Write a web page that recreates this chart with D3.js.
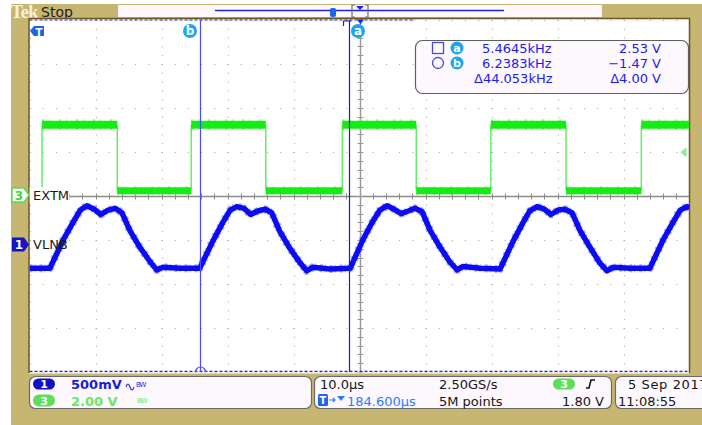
<!DOCTYPE html>
<html><head><meta charset="utf-8">
<script src="https://cdn.jsdelivr.net/npm/d3@7"></script>
<style>body{margin:0;background:#fff;overflow:hidden} svg{display:block} text{font-family:"DejaVu Sans",sans-serif}</style>
</head><body><svg id="c" width="702" height="425"></svg>
<script>
// ---------------- data ----------------
// Channel 1 (VLNB), time in µs from left edge of screen, volts
const ch1Time = [0, 3.1,5.1,6.6,7.7,8.7,9.8,10.8,11.9,13.0,14.0,15.2,16.7,18.3,19.3,20.2,22.8,
  25.8,27.8,29.3,30.4,31.4,32.5,33.5,34.6,35.7,36.7,37.9,39.4,41.0,42.0,42.9,45.5,
  48.6,50.5,52.0,53.1,54.2,55.2,56.3,57.4,58.4,59.5,60.7,62.2,63.7,64.8,65.7,68.3,
  71.3,73.3,74.8,75.8,76.9,78.0,79.0,80.1,81.1,82.2,83.4,84.9,86.4,87.5,88.4,91.0,
  94.0,96.0,97.5,98.6,99.6,100];
const ch1Volt = [-0.27, -0.27,0.05,0.25,0.39,0.44,0.40,0.34,0.39,0.41,0.36,0.16,-0.03,-0.2,-0.29,-0.26,-0.27,
  -0.27,0.04,0.25,0.39,0.43,0.41,0.34,0.38,0.40,0.36,0.15,-0.04,-0.21,-0.3,-0.26,-0.28,
  -0.27,0.05,0.26,0.39,0.44,0.40,0.35,0.38,0.41,0.37,0.16,-0.03,-0.2,-0.29,-0.25,-0.27,
  -0.28,0.04,0.25,0.38,0.43,0.40,0.34,0.39,0.40,0.36,0.16,-0.03,-0.21,-0.3,-0.26,-0.27,
  -0.27,0.05,0.25,0.39,0.43,0.42];
// Channel 3 (EXTM) square wave: edge times (µs), first state low
const ch3EdgeTimes = [1.9, 13.3, 24.5, 35.8, 47.4, 58.6, 69.9, 81.3, 92.7];
const ch3Levels = [0.2, 3.2]; // low, high (V)
const ch1Scale = 0.5, ch3Scale = 2.0;   // V/div
const ch1Pos = -1.1, ch3Pos = 0.02;      // div
const trigArrowLevel = 1.95;             // V on ch3
const cursorNames = ["a", "b"];
const cursorTimes = [48.4, 25.9];
const readoutFreq = ["5.4645kHz", "6.2383kHz", "Δ44.053kHz"];
const readoutVolt = ["2.53 V", "−1.47 V", "Δ4.00 V"];
const chLabels = ["EXTM", "VLNB"];
const ch1Info = ["500mV"], ch3Info = ["2.00 V"];
const horizInfo = ["10.0µs", "2.50GS/s", "184.600µs", "5M points", "1.80 V"];
const dateInfo = ["5 Sep 2017", "11:08:55"];

// ---------------- drawing ----------------
const svg = d3.select("#c");
const tan = "#c6b672";
const L = 29.5, R = 689.5, T = 20, B = 372;
const tScale = d3.scaleLinear().domain([0, 100]).range([L, R]);
const divX = d3.scaleLinear().domain([0, 10]).range([L, R]);
const divY = d3.scaleLinear().domain([-4, 4]).range([B, T]);
const y1 = v => divY(v / ch1Scale + ch1Pos);
const y3 = v => divY(v / ch3Scale + ch3Pos);

svg.append("rect").attr("x", 11).attr("y", 4).attr("width", 691).attr("height", 421).attr("fill", tan);
// top bar
svg.append("text").attr("x", 11).attr("y", 18).attr("font-weight", "bold")
  .attr("font-size", 18).attr("fill", "#f7f1e0").style("font-family", "Liberation Serif").attr("letter-spacing", -0.5).text("Tek");
svg.append("text").attr("x", 41).attr("y", 16.5).attr("font-size", 14).attr("fill", "#1e1e1e").text("Stop");
svg.append("rect").attr("x", 118).attr("y", 5).attr("width", 484).attr("height", 12).attr("fill", "#fdf8fc");
svg.append("line").attr("x1", 215).attr("x2", 504).attr("y1", 10.5).attr("y2", 10.5).attr("stroke", "#2020ee").attr("stroke-width", 1.5);
svg.append("rect").attr("x", 330).attr("y", 8).attr("width", 6).attr("height", 9).attr("rx", 2).attr("fill", "#1a66e8");
svg.append("path").attr("d", "M355,5 h-3 v12 h3 M365,5 h3 v12 h-3").attr("fill", "none").attr("stroke", "#707070").attr("stroke-width", 1.2);
svg.append("path").attr("d", "M356,6 h8 l-4,4 z").attr("fill", "#2020ee");

// plot area
svg.append("rect").attr("x", L - 0.5).attr("y", 18.5).attr("width", R - L + 0.5).attr("height", 355).attr("fill", "#ffffff");
svg.append("path").attr("d", `M${L-0.5},373 V18.5 H${R} V373`).attr("fill", "none").attr("stroke", "#6e5526").attr("stroke-width", 1.5);
svg.append("clipPath").attr("id", "clip").append("rect").attr("x", L).attr("y", 19.5).attr("width", R - L).attr("height", 353);
const g = svg.append("g").attr("clip-path", "url(#clip)");

// graticule
const gridC = "#a2a2a2";
g.selectAll(".vg").data(d3.range(0, 11)).join("line")
  .attr("x1", d => Math.round(divX(d)) + 0.5).attr("x2", d => Math.round(divX(d)) + 0.5)
  .attr("y1", T).attr("y2", B).attr("stroke", gridC).attr("stroke-dasharray", "1 7.8");
g.selectAll(".hg").data(d3.range(-4, 5)).join("line")
  .attr("y1", d => Math.round(divY(d)) + 0.5).attr("y2", d => Math.round(divY(d)) + 0.5)
  .attr("x1", L).attr("x2", R).attr("stroke", gridC).attr("stroke-dasharray", "1 12.2");
// center crosshair
const cy = Math.round(divY(0)) + 0.5, cx = Math.round(divX(5)) + 0.5;
g.append("line").attr("x1", L).attr("x2", R).attr("y1", cy).attr("y2", cy).attr("stroke", "#8a8a8a").attr("stroke-width", 1.5);
g.selectAll(".ht").data(d3.range(0, 51)).join("line")
  .attr("x1", d => Math.round(divX(d / 5)) + 0.5).attr("x2", d => Math.round(divX(d / 5)) + 0.5)
  .attr("y1", cy - 3).attr("y2", cy + 3).attr("stroke", "#8a8a8a");
g.append("line").attr("x1", cx).attr("x2", cx).attr("y1", T).attr("y2", B).attr("stroke", "#9a9a9a").attr("stroke-width", 1.5);
g.selectAll(".vt").data(d3.range(0, 41)).join("line")
  .attr("y1", d => Math.round(divY(d / 5 - 4)) + 0.5).attr("y2", d => Math.round(divY(d / 5 - 4)) + 0.5)
  .attr("x1", cx - 3).attr("x2", cx + 3).attr("stroke", "#9a9a9a");

// dashed record indicators
g.append("line").attr("x1", L).attr("x2", 415).attr("y1", 19.8).attr("y2", 19.8).attr("stroke", "#2a2ab0").attr("stroke-width", 1.5).attr("stroke-dasharray", "3 2");
g.append("line").attr("x1", L).attr("x2", R).attr("y1", 371.5).attr("y2", 371.5).attr("stroke", "#2a2ab0").attr("stroke-width", 1.5).attr("stroke-dasharray", "3 2");

// channel 3 (green)
const bounds = [0, ...ch3EdgeTimes, 100];
const segs = d3.range(bounds.length - 1).map(i => ({ t0: bounds[i], t1: bounds[i + 1], v: ch3Levels[i % 2] }));
g.selectAll(".s3b").data(segs).join("line")
  .attr("x1", d => tScale(d.t0)).attr("x2", d => tScale(d.t1))
  .attr("y1", d => y3(d.v)).attr("y2", d => y3(d.v))
  .attr("stroke", "#7af27a").attr("stroke-width", d => d.v > 1 ? 11 : 9).attr("stroke-dasharray", "2 5 1 9").attr("opacity", 0.8);
g.selectAll(".e3").data(ch3EdgeTimes).join("line")
  .attr("x1", d => tScale(d)).attr("x2", d => tScale(d))
  .attr("y1", y3(ch3Levels[0])).attr("y2", y3(ch3Levels[1]))
  .attr("stroke", "#66ee66").attr("stroke-width", 1.5);
g.selectAll(".s3").data(segs).join("line")
  .attr("x1", d => tScale(d.t0)).attr("x2", d => tScale(d.t1))
  .attr("y1", d => y3(d.v)).attr("y2", d => y3(d.v))
  .attr("stroke", "#14ec14").attr("stroke-width", d => d.v > 1 ? 8 : 7);

// channel 1 (blue)
const ch1 = ch1Time.map((t, i) => ({ t, v: ch1Volt[i] }));
const line1 = d3.line().x(d => tScale(d.t)).y(d => y1(d.v)).curve(d3.curveLinear);
g.append("path").datum(ch1).attr("d", line1).attr("fill", "none").attr("stroke", "#5a5aff").attr("stroke-width", 8).attr("opacity", 0.5).attr("stroke-linejoin", "round").attr("stroke-dasharray", "3 2 1 4");
g.append("path").datum(ch1).attr("d", line1).attr("fill", "none").attr("stroke", "#0c0cf2").attr("stroke-width", 5.5).attr("stroke-linejoin", "round");

// trigger level arrow
g.append("path").attr("d", `M${R-9},${y3(trigArrowLevel)} l6,-5 v10 z`).attr("fill", "#8aee8a");

// cursors
const cur = cursorTimes.map((t, i) => ({ t, n: cursorNames[i] }));
g.selectAll(".cur").data(cur).join("line")
  .attr("x1", d => Math.round(tScale(d.t)) + 0.5).attr("x2", d => Math.round(tScale(d.t)) + 0.5)
  .attr("y1", T).attr("y2", B).attr("stroke", d => d.n === "a" ? "#22229a" : "#4a4aff").attr("stroke-width", 1.2);
const bx = Math.round(tScale(cursorTimes[1])) + 0.5, ax = Math.round(tScale(cursorTimes[0])) + 0.5;
g.append("path").attr("d", `M${bx-5},372 A5,5 0 0 1 ${bx+5},372`).attr("fill", "none").attr("stroke", "#4a4aff").attr("stroke-width", 1.2);
g.append("path").attr("d", `M${ax-6},26 V21 H${ax+2}`).attr("fill", "none").attr("stroke", "#2020c0").attr("stroke-width", 1.2);
g.append("path").attr("d", `M${cx-4},19 h8 l-4,5 z`).attr("fill", "#2020ee");
const markers = [{ x: ax + 8.5, n: "a" }, { x: bx - 10.5, n: "b" }];
markers.forEach(m => {
  g.append("circle").attr("cx", m.x).attr("cy", 31).attr("r", 7).attr("fill", "#1aa6f0");
  g.append("text").attr("x", m.x).attr("y", 35).attr("text-anchor", "middle").attr("fill", "#fff").attr("font-weight", "bold").attr("font-size", 12).text(m.n);
});
// trigger position T marker
g.append("path").attr("d", "M30,31 L34,26 H44 V36 H34 Z").attr("fill", "#1e64e6");
g.append("text").attr("x", 39).attr("y", 35.5).attr("text-anchor", "middle").attr("fill", "#fff").attr("font-weight", "bold").attr("font-size", 10).text("T");

// channel labels
g.append("rect").attr("x", L).attr("y", 187).attr("width", 40).attr("height", 16).attr("fill", "#fff");
g.append("text").attr("x", 33).attr("y", y3(0) + 4.5).attr("font-size", 13).attr("fill", "#1a1a1a").text(chLabels[0]);
g.append("text").attr("x", 33).attr("y", y1(0) + 5).attr("font-size", 13).attr("fill", "#1a1a1a").text(chLabels[1]);

// left channel markers
const m3y = y3(0), m1y = y1(0);
svg.append("path").attr("d", `M12,${m3y-7} H24 L29,${m3y} L24,${m3y+7} H12 Z`).attr("fill", "#fff").attr("stroke", "#4ee04e").attr("stroke-width", 1.5);
svg.append("text").attr("x", 19).attr("y", m3y + 4.5).attr("text-anchor", "middle").attr("fill", "#3cd83c").attr("font-weight", "bold").attr("font-size", 12).text("3");
svg.append("path").attr("d", `M12,${m1y-7} H24 L29,${m1y} L24,${m1y+7} H12 Z`).attr("fill", "#1414c8");
svg.append("text").attr("x", 19).attr("y", m1y + 4.5).attr("text-anchor", "middle").attr("fill", "#fff").attr("font-weight", "bold").attr("font-size", 12).text("1");

// cursor readout box
svg.append("rect").attr("x", 415.5).attr("y", 40.5).attr("width", 273).attr("height", 53).attr("rx", 7).attr("fill", "#fdf8fd").attr("stroke", "#5e5e5e").attr("stroke-width", 1.2);
const tc = "#1c1cee";
svg.append("rect").attr("x", 432.5).attr("y", 42.5).attr("width", 11).attr("height", 11).attr("fill", "none").attr("stroke", "#4a4ae0").attr("stroke-width", 1.3);
svg.append("circle").attr("cx", 438).attr("cy", 63).attr("r", 5.5).attr("fill", "none").attr("stroke", "#4a4ae0").attr("stroke-width", 1.3);
[48, 63].forEach((yy, i) => {
  svg.append("circle").attr("cx", 457).attr("cy", yy).attr("r", 6.5).attr("fill", "#1aa6f0");
  svg.append("text").attr("x", 457).attr("y", yy + 4).attr("text-anchor", "middle").attr("fill", "#fff").attr("font-weight", "bold").attr("font-size", 11).text(cursorNames[i]);
});
const rowY = [53, 68, 83];
readoutFreq.forEach((s, i) => svg.append("text").attr("x", i === 2 ? 474 : 482).attr("y", rowY[i]).attr("font-size", 13).attr("fill", tc).text(s));
readoutVolt.forEach((s, i) => svg.append("text").attr("x", 661).attr("y", rowY[i]).attr("text-anchor", "end").attr("font-size", 13).attr("fill", tc).text(s));

// bottom panels
const box = (x, w) => svg.append("rect").attr("x", x).attr("y", 376.5).attr("width", w).attr("height", 32).attr("rx", 6).attr("fill", "#fdf8fd").attr("stroke", "#6a6a6a").attr("stroke-width", 1.2);
box(29.5, 282); box(314.5, 297); box(615.5, 100);
// ch1/ch3
svg.append("rect").attr("x", 33).attr("y", 378.5).attr("width", 22).attr("height", 11).attr("rx", 5.5).attr("fill", "#1010c4");
svg.append("text").attr("x", 44).attr("y", 388).attr("text-anchor", "middle").attr("fill", "#fff").attr("font-size", 11).attr("font-weight", "bold").text("1");
svg.append("rect").attr("x", 33).attr("y", 394.5).attr("width", 22).attr("height", 12).attr("rx", 6).attr("fill", "#5ce05c");
svg.append("text").attr("x", 44).attr("y", 404.5).attr("text-anchor", "middle").attr("fill", "#fff").attr("font-size", 11).attr("font-weight", "bold").text("3");
svg.append("text").attr("x", 71).attr("y", 389).attr("font-size", 13).attr("font-weight", "bold").attr("fill", "#1c1cd6").text(ch1Info[0]);
svg.append("text").attr("x", 71).attr("y", 405.5).attr("font-size", 13).attr("font-weight", "bold").attr("fill", "#66e866").text(ch3Info[0]);
svg.append("path").attr("d", "M126,387 q2,-6 4,0 t4,0").attr("fill", "none").attr("stroke", "#2a2ae0").attr("stroke-width", 1.1);
const bw = (x, y, col) => svg.append("text").attr("x", x).attr("y", y).attr("font-size", 7).attr("letter-spacing", -1).attr("fill", col).text("BW");
bw(136, 387, "#2a2ae0");
bw(137, 403, "#66e866");
// horizontal
const bk = "#151515";
svg.append("text").attr("x", 320).attr("y", 389).attr("font-size", 13).attr("fill", bk).text(horizInfo[0]);
svg.append("text").attr("x", 439).attr("y", 389).attr("font-size", 13).attr("fill", bk).text(horizInfo[1]);
svg.append("rect").attr("x", 553).attr("y", 378.5).attr("width", 22).attr("height", 11).attr("rx", 5.5).attr("fill", "#5ce05c");
svg.append("text").attr("x", 564).attr("y", 388).attr("text-anchor", "middle").attr("fill", "#fff").attr("font-size", 11).attr("font-weight", "bold").text("3");
svg.append("path").attr("d", "M586,388 h3 l2,-8 h4").attr("fill", "none").attr("stroke", bk).attr("stroke-width", 1.6);
svg.append("rect").attr("x", 318).attr("y", 394).attr("width", 10).attr("height", 12).attr("rx", 1.5).attr("fill", "#1e64e6");
svg.append("text").attr("x", 323).attr("y", 404).attr("text-anchor", "middle").attr("fill", "#fff").attr("font-size", 10).attr("font-weight", "bold").text("T");
svg.append("path").attr("d", "M329,400 h6 M333,398 l2,2 l-2,2").attr("fill", "none").attr("stroke", "#2a7cff").attr("stroke-width", 1.2);
svg.append("path").attr("d", "M337,396 h8 l-4,5 z").attr("fill", "#2a7cff");
svg.append("text").attr("x", 347).attr("y", 405.5).attr("font-size", 13).attr("fill", "#2a7cff").text(horizInfo[2]);
svg.append("text").attr("x", 439).attr("y", 405.5).attr("font-size", 13).attr("fill", bk).text(horizInfo[3]);
svg.append("text").attr("x", 604).attr("y", 405.5).attr("text-anchor", "end").attr("font-size", 13).attr("fill", bk).text(horizInfo[4]);
// date
svg.append("text").attr("x", 628).attr("y", 389).attr("font-size", 13).attr("letter-spacing", 0.6).attr("fill", bk).text(dateInfo[0]);
svg.append("text").attr("x", 618).attr("y", 405.5).attr("font-size", 13).attr("fill", bk).text(dateInfo[1]);
</script></body></html>
